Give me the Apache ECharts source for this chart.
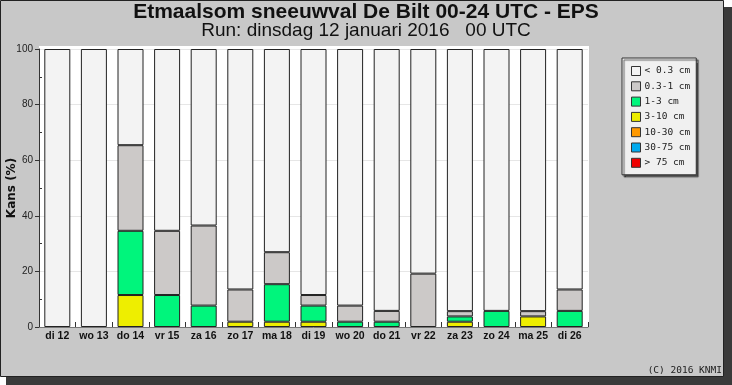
<!DOCTYPE html>
<html>
<head>
<meta charset="utf-8">
<script src="https://cdn.jsdelivr.net/npm/echarts@6/dist/echarts.min.js"></script>
<style>
html,body{margin:0;padding:0;background:#fff;}
#chart{width:732px;height:385px;}
</style>
</head>
<body>
<div id="chart"></div>
<script>
var categories = ['di 12','wo 13','do 14','vr 15','za 16','zo 17','ma 18','di 19','wo 20','do 21','vr 22','za 23','zo 24','ma 25','di 26'];
var yTicks = [0, 20, 40, 60, 80, 100];
var gt75   = [0,0,0,0,0,0,0,0,0,0,0,0,0,0,0];
var s30_75 = [0,0,0,0,0,0,0,0,0,0,0,0,0,0,0];
var s10_30 = [0,0,0,0,0,0,0,0,0,0,0,0,0,0,0];
var s3_10  = [0,0,11.5,0,0,1.9,1.9,1.9,0,0,0,1.9,0,3.8,0];
var s1_3   = [0,0,23.1,11.5,7.7,0,13.5,5.8,1.9,1.9,0,1.9,5.8,0,5.8];
var s03_1  = [0,0,30.8,23.1,28.8,11.6,11.5,3.8,5.8,3.9,19.2,1.9,0,1.9,7.7];
var lt03   = [100,100,34.6,65.4,63.5,86.5,73.1,88.5,92.3,94.2,80.8,94.3,94.2,94.3,86.5];

var seriesDefs = [
  {name: '> 75 cm',  data: gt75,   color: '#ee0000'},
  {name: '30-75 cm', data: s30_75, color: '#00aaee'},
  {name: '10-30 cm', data: s10_30, color: '#ff9900'},
  {name: '3-10 cm',  data: s3_10,  color: '#eeee00'},
  {name: '1-3 cm',   data: s1_3,   color: '#00f57c'},
  {name: '0.3-1 cm', data: s03_1,  color: '#ccc9c8'},
  {name: '< 0.3 cm', data: lt03,   color: '#f3f3f3'}
];

var chart = echarts.init(document.getElementById('chart'), null, {renderer: 'canvas'});
var option = {
  animation: false,
  backgroundColor: '#ffffff',
  graphic: [
    {type: 'rect', z: -10, shape: {x: 6, y: 7, width: 726, height: 378}, style: {fill: '#3a3a3a'}},
    {type: 'rect', z: -9, shape: {x: 0.5, y: 0.5, width: 723, height: 376}, style: {fill: '#c8c8c8', stroke: '#222', lineWidth: 1}},
    {type: 'rect', z: -8, shape: {x: 39, y: 46, width: 550, height: 281}, style: {fill: '#ffffff'}},
    {type: 'text', right: 10, top: 366, style: {text: '(C) 2016 KNMI', font: '9.5px "DejaVu Sans Mono", monospace', fill: '#222'}},
    {type: 'text', x: 12, y: 188, rotation: Math.PI / 2, z: 10,
     style: {text: 'Kans (%)', font: 'bold 12px "DejaVu Sans"', fill: '#111', align: 'center', verticalAlign: 'middle'}}
  ],
  title: [
    {text: 'Etmaalsom sneeuwval De Bilt 00-24 UTC - EPS', left: 'center', top: 2, padding: 0,
     textStyle: {fontFamily: 'Liberation Sans', fontWeight: 'bold', fontSize: 21, color: '#111'}},
    {text: 'Run: dinsdag 12 januari 2016   00 UTC', left: 'center', top: 21, padding: 0,
     textStyle: {fontFamily: 'Liberation Sans', fontWeight: 'normal', fontSize: 19, color: '#111'}}
  ],
  legend: {
    orient: 'vertical',
    left: 622, top: 58,
    padding: [8, 6, 7, 9],
    itemGap: 5.3,
    itemWidth: 9, itemHeight: 9,
    backgroundColor: '#f0f0f0',
    borderColor: '#333', borderWidth: 1,
    shadowColor: 'rgba(0,0,0,0.6)', shadowOffsetX: 2, shadowOffsetY: 2, shadowBlur: 1,
    icon: 'rect',
    itemStyle: {borderColor: '#333', borderWidth: 1},
    textStyle: {fontFamily: '"DejaVu Sans Mono", monospace', fontSize: 9.5, color: '#222', padding: [0,0,0,-1]},
    data: seriesDefs.map(function(s){return s.name;}).reverse()
  },
  grid: {left: 39, right: 144, top: 49, bottom: 58, containLabel: false, outerBoundsMode: 'none'},
  xAxis: {
    type: 'category',
    data: categories,
    boundaryGap: true,
    axisLine: {show: true, lineStyle: {color: '#777', width: 1}},
    axisTick: {show: true, inside: true, length: 5, alignWithLabel: false, lineStyle: {color: '#333'}},
    axisLabel: {margin: 4, fontFamily: 'Liberation Sans', fontWeight: 'bold', fontSize: 10.5, color: '#111', interval: 0},
    splitLine: {show: false}
  },
  yAxis: [
    {
      type: 'value', min: yTicks[0], max: yTicks[yTicks.length - 1], interval: 20,
      axisLine: {show: true, lineStyle: {color: '#333', width: 1}},
      axisTick: {show: true, inside: false, length: 4, lineStyle: {color: '#333'}},
      axisLabel: {margin: 6, fontFamily: 'Liberation Sans', fontSize: 10, color: '#222'},
      splitLine: {show: true, lineStyle: {color: '#e6e6e6', width: 1}}
    },
    {
      type: 'value', min: 0, max: 100, interval: 10, position: 'left',
      axisLine: {show: false},
      axisTick: {show: true, inside: true, length: 3, customValues: [10, 30, 50, 70, 90], lineStyle: {color: '#333'}},
      axisLabel: {show: false},
      splitLine: {show: false}
    }
  ],
  series: seriesDefs.map(function(s){
    return {
      name: s.name, type: 'bar', stack: 'kans', barWidth: 26,
      yAxisIndex: 0,
      itemStyle: {color: s.color, borderColor: '#222', borderWidth: 1},
      emphasis: {disabled: true},
      data: s.data.map(function(v){ return v === 0 ? '-' : v; })
    };
  })
};
chart.setOption(option);
</script>
</body>
</html>
